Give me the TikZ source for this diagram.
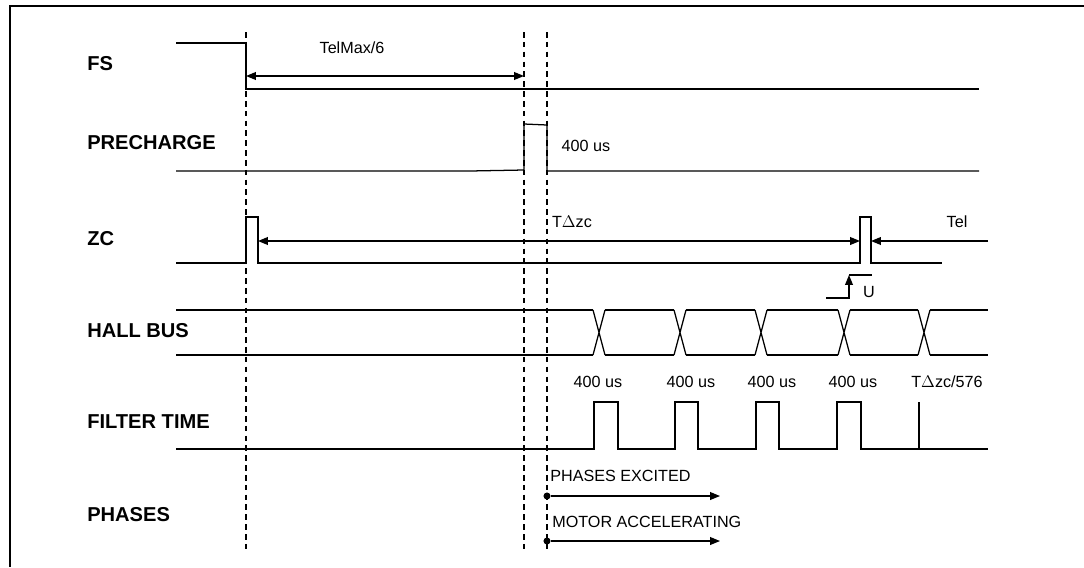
\documentclass[tikz,border=0pt]{standalone}
\usepackage{fontspec}
\setmainfont{Liberation Sans}
\usetikzlibrary{arrows.meta, positioning, calc}

\begin{document}
\begin{tikzpicture}[
  x=0.025cm, y=-0.025cm,
  sig/.style={line width=0.9pt, line join=miter},
  guide/.style={line width=0.8pt, dash pattern=on 4pt off 3pt},
  dim/.style={line width=0.9pt, {Triangle[length=7pt,width=5.5pt]}-{Triangle[length=7pt,width=5.5pt]}},
  arr/.style={line width=0.9pt, -{Triangle[length=7pt,width=5.5pt]}},
  rowlabel/.style={anchor=west, inner sep=0pt, font=\bfseries\fontsize{14.3}{17}\selectfont},
  note/.style={inner sep=0pt, font=\fontsize{11.5}{13}\selectfont},
  dot/.style={circle, fill, inner sep=0pt, minimum size=5pt}
]
  \useasboundingbox (0,0) rectangle (1084,567);

  % frame
  \draw[line width=1.8pt] (1084,6) -- (10,6) -- (10,567);

  % row labels
  \node[rowlabel] (fs) at (87,64) {FS};
  \node[rowlabel] (pre) at (87,143) {PRECHARGE};
  \node[rowlabel] (zc) at (87,239) {ZC};
  \node[rowlabel] (hall) at (87,331) {HALL BUS};
  \node[rowlabel] (filt) at (87,422) {FILTER TIME};
  \node[rowlabel] (ph) at (87,515) {PHASES};

  % dashed guides
  \foreach \x in {246,524,547}
    \draw[guide] (\x,32) -- (\x,552);

  % FS
  \draw[sig] (176,43) -- (246,43) -- (246,89) -- (979,89);
  \coordinate (tm-a) at (246,76);
  \coordinate (tm-b) at (524,76);
  \draw[dim] (tm-a) -- (tm-b);
  \node[note] (telmax) at (352,48) {TelMax/6};

  % PRECHARGE
  \draw[sig] (176,171) -- (470,171) -- (524,170) -- (524,124) -- (547,125) -- (547,171) -- (979,171);
  \node[note] (pre400) at (586,146) {400 us};

  % ZC
  \draw[sig] (176,263) -- (246,263) -- (246,217) -- (258,217) -- (258,263)
    -- (860,263) -- (860,217) -- (871,217) -- (871,263) -- (942,263);
  \coordinate (zc-a) at (258,241);
  \coordinate (zc-b) at (860,241);
  \coordinate (tel-a) at (988,241);
  \coordinate (tel-b) at (871,241);
  \draw[dim] (zc-a) -- (zc-b);
  \draw[arr] (tel-a) -- (tel-b);
  \node[note] (tdzc) at (572,222) {T$\Delta$zc};
  \node[note] (tel) at (957,222) {Tel};
  % U step
  \draw[arr] (826,298) -- (849,298) -- (849,275);
  \draw[sig] (849,275) -- (872,275);
  \node[note] (u) at (869,292) {U};

  % HALL BUS
  \foreach \c in {599,680,761,844,924}
    \draw[sig] (\c-6,310) -- (\c+6,355) (\c-6,355) -- (\c+6,310);
  \foreach \a/\b in {176/593, 605/674, 686/755, 767/838, 850/918, 930/988}
    \draw[sig] (\a,310) -- (\b,310) (\a,355) -- (\b,355);

  % FILTER TIME
  \draw[sig] (176,449) -- (594,449) -- (594,402) -- (618,402) -- (618,449)
    -- (675,449) -- (675,402) -- (698,402) -- (698,449)
    -- (756,449) -- (756,402) -- (779,402) -- (779,449)
    -- (837,449) -- (837,402) -- (861,402) -- (861,449) -- (988,449);
  \draw[sig] (919,449) -- (919,402);
  \node[note] (f1) at (598,382) {400 us};
  \node[note] (f2) at (691,382) {400 us};
  \node[note] (f3) at (772,382) {400 us};
  \node[note] (f4) at (853,382) {400 us};
  \node[note] (f5) at (947,382) {T$\Delta$zc/576};

  % PHASES
  \node[dot] (exc) at (547,496) {};
  \node[dot] (acc) at (547,541) {};
  \coordinate (exc-end) at (720,496);
  \coordinate (acc-end) at (720,541);
  \draw[arr] (exc) -- (exc-end);
  \draw[arr] (acc) -- (acc-end);
  \node[note, anchor=west] (exctxt) at (550,476) {PHASES EXCITED};
  \node[note, anchor=west] (acctxt) at (552,522) {MOTOR ACCELERATING};
\end{tikzpicture}
\end{document}
